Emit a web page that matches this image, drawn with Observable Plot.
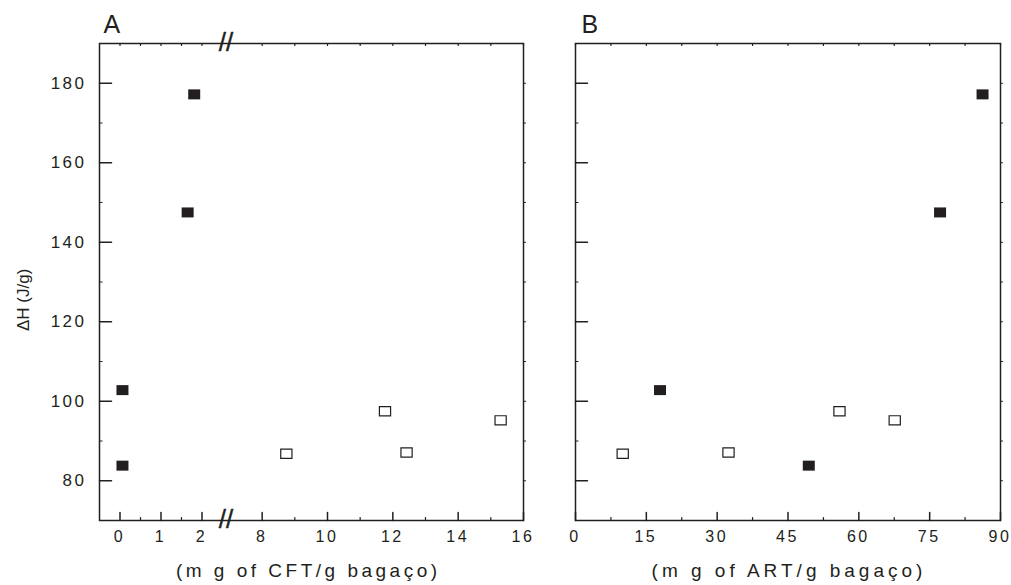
<!DOCTYPE html>
<html>
<head>
<meta charset="utf-8">
<script src="https://cdn.jsdelivr.net/npm/d3@7"></script>
<script src="https://cdn.jsdelivr.net/npm/@observablehq/plot@0.6"></script>
<style>
  body { margin: 0; background: #fff; }
  #chart { position: relative; width: 1011px; height: 585px; font-family: "Liberation Sans", Arial, sans-serif; }
  #chart svg { position: absolute; top: 0; overflow: visible; background: transparent; }
</style>
</head>
<body>
<div id="chart"></div>
<script>
// ---- data ----
const deltaH    = [102.8, 83.8, 147.5, 177.2, 86.8, 87.1, 97.5, 95.2];
const cftValues = [0.06, 0.06, 1.65, 1.81, 8.74, 12.42, 11.76, 15.3];
const artValues = [17.9, 49.4, 77.2, 86.2, 10.0, 32.4, 55.9, 67.6];
const pointType = ["filled", "filled", "filled", "filled", "open", "open", "open", "open"];

const yMajorTicks = [80, 100, 120, 140, 160, 180];
const yMinorTicks = [90, 110, 130, 150, 170];
const cftMajorTicks = [0, 1, 2, 8, 10, 12, 14, 16];
const cftMinorTicks = [0.5, 1.5, 9, 11, 13, 15];
const artMajorTicks = [0, 15, 30, 45, 60, 75, 90];
const artMinorTicks = [7.5, 22.5, 37.5, 52.5, 67.5, 82.5];
const cftDomain = [-0.5, 2.5, 7, 16];   // broken axis: 2.5 … 7 is skipped
const artDomain = [0, 90];
const cftBreakAt = [4.75];
const breakMark = "//";
const panelLabels = ["A", "B"];
const xTitles = ["(m g of CFT/g bagaço)", "(m g of ART/g bagaço)"];
const yTitle = "ΔH (J/g)";
const yDomain = [70, 190];

// ---- drawing ----
const ink = "#231f20";
const H = 585, MT = 43, MB = 65;
const rectSymbol = { draw(ctx) { ctx.rect(-6, -5, 12, 10); } };
const openSymbol = { draw(ctx) { ctx.rect(-5.6, -4.6, 11.2, 9.2); } };
const tickShape = { draw(ctx, l) { ctx.moveTo(0, 0); ctx.lineTo(0, -l); } };

function ticks(data, side, length, strokeWidth) {
  const horizontal = side === "left" || side === "right";
  const rotate = {bottom: 0, top: 180, left: 90, right: 90}[side];
  return Plot.vector(data, {
    ...(horizontal ? {y: d => d} : {x: d => d}),
    frameAnchor: side, rotate, length, anchor: "start", shape: tickShape,
    stroke: ink, strokeWidth
  });
}

function panel({xValues, domain, range, width, ml, mr, major, minor, label, title, titleSpacing, titleDx, showY, breaks, labelDx}) {
  const rows = xValues.map((x, i) => ({x, y: deltaH[i], type: pointType[i]}));
  const allX = major.concat(minor);
  const allY = yMajorTicks.concat(yMinorTicks);
  const marks = [
    Plot.frame({stroke: ink, strokeWidth: 1.5}),
    ticks(major, "bottom", 8, 1.5),
    ticks(minor, "bottom", 3, 1.2),
    ticks(allX, "top", 2, 1.2),
    ticks(yMajorTicks, "left", 12, 1.5),
    ticks(yMinorTicks, "left", 2.5, 1.2),
    ticks(allY, "right", 2, 1.2),
    Plot.axisX(major, {anchor: "bottom", tickSize: 0, tickPadding: 10, fontSize: 16, fill: ink, dx: -0.5, label: null}),
    Plot.dot(rows.filter(d => d.type === "filled"), {x: "x", y: "y", symbol: rectSymbol, fill: ink, stroke: "none"}),
    Plot.dot(rows.filter(d => d.type === "open"), {x: "x", y: "y", symbol: openSymbol, fill: "white", stroke: ink, strokeWidth: 1.2}),
    Plot.text([label], {frameAnchor: "top-left", textAnchor: "start", lineAnchor: "middle", dx: labelDx, dy: -19, fontSize: 25, fill: ink}),
    Plot.text([title], {frameAnchor: "bottom", lineAnchor: "middle", dx: titleDx, dy: 50, fontSize: 19, fill: ink})
  ];
  if (showY) {
    marks.push(Plot.axisY(yMajorTicks, {anchor: "left", tickSize: 0, tickPadding: 13, fontSize: 17, fill: ink, label: null}));
    marks.push(Plot.text([yTitle], {frameAnchor: "left", rotate: -90, dx: -76, dy: 49, fontSize: 17, fill: ink}));
  }
  if (breaks) {
    for (const anchor of ["top", "bottom"]) {
      marks.push(Plot.text(breaks, {x: d => d, frameAnchor: anchor, text: () => breakMark, lineAnchor: "middle", dy: -1, fontSize: 26, fill: ink, stroke: ink, strokeWidth: 0.4}));
    }
  }
  const svg = Plot.plot({
    width, height: H,
    marginLeft: ml, marginRight: mr, marginTop: MT, marginBottom: MB,
    style: {fontFamily: '"Liberation Sans", Arial, sans-serif', color: ink, background: "transparent"},
    x: {type: "linear", domain, range, axis: null},
    y: {domain: yDomain, axis: null},
    marks
  });
  // letter-spaced typography of the original figure
  const tickLabels = new Set(major.concat(yMajorTicks).map(String));
  d3.select(svg).selectAll("text").each(function () {
    const t = this.textContent;
    if (t === title) this.style.letterSpacing = titleSpacing + "px";
    else if (tickLabels.has(t)) this.style.letterSpacing = "2.5px";
  });
  return svg;
}

const chart = document.getElementById("chart");
const wA = 540, mlA = 99, mrA = 17;
const pA = panel({
  xValues: cftValues, domain: cftDomain,
  range: [mlA, mlA + 123, mlA + 130, wA - mrA],
  width: wA, ml: mlA, mr: mrA,
  major: cftMajorTicks, minor: cftMinorTicks,
  label: panelLabels[0], title: xTitles[0], titleSpacing: 3.5, titleDx: -3.25,
  showY: true, breaks: cftBreakAt, labelDx: 4
});
pA.style.left = "0px";
chart.appendChild(pA);

const wB = 471, mlB = 35, mrB = 11;
const pB = panel({
  xValues: artValues, domain: artDomain,
  range: [mlB, wB - mrB],
  width: wB, ml: mlB, mr: mrB,
  major: artMajorTicks, minor: artMinorTicks,
  label: panelLabels[1], title: xTitles[1], titleSpacing: 4, titleDx: 1,
  showY: false, breaks: null, labelDx: 6
});
pB.style.left = "540px";
chart.appendChild(pB);
</script>
</body>
</html>
